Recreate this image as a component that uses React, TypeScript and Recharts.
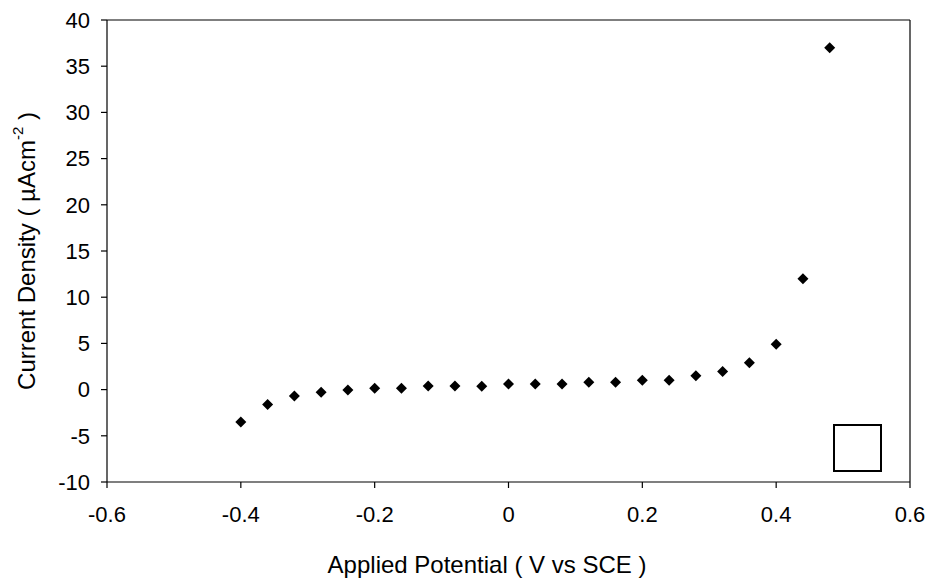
import React from 'react';
import { ScatterChart, Scatter, XAxis, YAxis, ReferenceLine } from 'recharts';

const potentials = [-0.4, -0.36, -0.32, -0.28, -0.24, -0.2, -0.16, -0.12, -0.08, -0.04, 0, 0.04, 0.08, 0.12, 0.16, 0.2, 0.24, 0.28, 0.32, 0.36, 0.4, 0.44, 0.48];
const currents = [-3.5, -1.6, -0.7, -0.3, -0.05, 0.15, 0.15, 0.4, 0.4, 0.35, 0.6, 0.6, 0.6, 0.8, 0.8, 1.0, 1.0, 1.5, 1.95, 2.9, 4.9, 12.0, 37.0];
const xTicks = [-0.6, -0.4, -0.2, 0, 0.2, 0.4, 0.6];
const yTicks = [-10, -5, 0, 5, 10, 15, 20, 25, 30, 35, 40];

const data = potentials.map((x, i) => ({ x, y: currents[i] }));

const FONT = '"Liberation Sans", Arial, sans-serif';

const Diamond = (props: any) => {
  const { cx, cy } = props;
  const r = 5.5;
  return (
    <polygon
      points={`${cx},${cy - r} ${cx + r},${cy} ${cx},${cy + r} ${cx - r},${cy}`}
      fill="#000"
    />
  );
};

const YTitle = ({ viewBox }: any) => {
  const cx = 26;
  const cy = viewBox.y + viewBox.height / 2;
  return (
    <text
      x={cx}
      y={cy}
      transform={`rotate(-90, ${cx}, ${cy})`}
      textAnchor="middle"
      dominantBaseline="central"
      fontFamily={FONT}
      fontSize={24}
      fill="#000"
    >
      Current Density ( µAcm
      <tspan dy={-9} fontSize={15}>-2</tspan>
      <tspan dy={9}> )</tspan>
    </text>
  );
};

const XTitle = () => (
  <text x={487} y={573} textAnchor="middle" fontFamily={FONT} fontSize={24} fill="#000">
    Applied Potential ( V vs SCE )
  </text>
);

export default function App() {
  return (
    <div style={{ position: 'absolute', left: 0, top: 0, width: 929, height: 580, background: '#fff' }}>
      <ScatterChart width={929} height={580} margin={{ top: 20, right: 19, bottom: 38, left: 27 }}>
        <XAxis
          type="number"
          dataKey="x"
          domain={[-0.6, 0.6]}
          ticks={xTicks}
          tickFormatter={(v: number) => String(v)}
          axisLine={{ stroke: '#000', strokeWidth: 1.2 }}
          tickLine={{ stroke: '#000', strokeWidth: 1.2 }}
          tickSize={6}
          tickMargin={18}
          tick={{ fill: '#000', fontSize: 22, fontFamily: FONT }}
          height={60}
          label={<XTitle />}
        />
        <YAxis
          type="number"
          dataKey="y"
          domain={[-10, 40]}
          ticks={yTicks}
          axisLine={{ stroke: '#000', strokeWidth: 1.2 }}
          tickLine={{ stroke: '#000', strokeWidth: 1.2 }}
          tickSize={6}
          tickMargin={11}
          tick={{ fill: '#000', fontSize: 22, fontFamily: FONT }}
          width={80}
          label={<YTitle />}
        />
        <ReferenceLine y={40} stroke="#000" strokeWidth={1.2} />
        <ReferenceLine x={0.6} stroke="#000" strokeWidth={1.2} />
        <Scatter data={data} fill="#000" shape={<Diamond />} isAnimationActive={false} />
      </ScatterChart>
      <div
        style={{
          position: 'absolute',
          left: 833,
          top: 424,
          width: 49,
          height: 48,
          boxSizing: 'border-box',
          border: '2px solid #000',
          background: '#fff',
        }}
      />
    </div>
  );
}
